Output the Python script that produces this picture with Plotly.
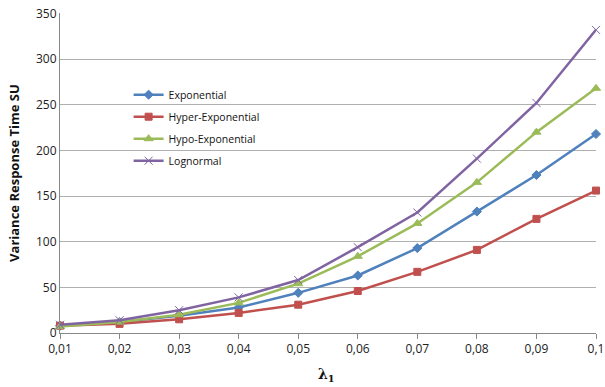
import plotly.graph_objects as go

x_vals = [0.01, 0.02, 0.03, 0.04, 0.05, 0.06, 0.07, 0.08, 0.09, 0.1]
x_labels = ["0,01", "0,02", "0,03", "0,04", "0,05", "0,06", "0,07", "0,08", "0,09", "0,1"]
exponential = [8, 12, 19, 28, 44, 63, 93, 133, 173, 218]
hyper_exponential = [8, 10, 15, 22, 31, 46, 67, 91, 125, 156]
hypo_exponential = [7, 12, 20, 33, 54, 84, 120, 165, 220, 268]
lognormal = [9, 14, 25, 39, 58, 94, 132, 191, 252, 332]
y_ticks = [0, 50, 100, 150, 200, 250, 300, 350]

series = [
    ("Exponential", exponential, "#4F81BD", "diamond", 7),
    ("Hyper-Exponential", hyper_exponential, "#C0504D", "square", 7),
    ("Hypo-Exponential", hypo_exponential, "#9BBB59", "triangle-up", 8),
    ("Lognormal", lognormal, "#8064A2", "x-thin", 8),
]

fig = go.Figure()
for name, vals, color, sym, size in series:
    fig.add_trace(go.Scatter(
        x=x_vals, y=vals, name=name, mode="lines+markers",
        legendgroup=name,
        line=dict(color=color, width=2.5),
        marker=dict(symbol=sym, size=size, color=color,
                    line=dict(color=color, width=1)),
        cliponaxis=False,
    ))

fig.update_layout(
    width=605, height=387,
    margin=dict(l=60, r=9, t=13, b=54),
    paper_bgcolor="white", plot_bgcolor="white",
    font=dict(family="Open Sans, Liberation Sans, sans-serif", size=12, color="#222"),
    showlegend=True,
    legend=dict(x=0.128, y=0.79, xanchor="left", yanchor="top",
                bgcolor="rgba(0,0,0,0)", font=dict(size=10.5, color="#111"),
                itemwidth=30, tracegroupgap=3),
    xaxis=dict(
        range=[0.01, 0.1], tickvals=x_vals, ticktext=x_labels,
        showgrid=False, zeroline=False, showline=True, linecolor="#888",
        linewidth=1, ticks="outside", ticklen=5, tickcolor="#888",
        tickfont=dict(size=12, color="#222"), automargin=False,
        ticklabeloverflow="allow",
    ),
    yaxis=dict(
        range=[0, 350.5], tickvals=y_ticks,
        showgrid=True, gridcolor="#B0B0B0", gridwidth=1,
        zeroline=False, showline=True, linecolor="#888", linewidth=1,
        ticks="", tickfont=dict(size=12, color="#222"), automargin=False,
        ticklabeloverflow="allow",
    ),
)

fig.add_annotation(
    text="<b>Variance Response Time SU</b>", xref="paper", yref="paper",
    x=-0.086, y=0.5, xanchor="center", yanchor="middle", showarrow=False,
    textangle=-90, font=dict(size=13, color="#111"),
)

fig.add_annotation(
    text="<b>λ<sub>1</sub></b>", xref="paper", yref="paper",
    x=0.498, y=-0.131, xanchor="center", yanchor="middle", showarrow=False,
    font=dict(family="DejaVu Serif, Liberation Serif, serif", size=14, color="#111"),
)

# remove the default page margin and scrollbars so the figure fills the window
fig.write_html(
    "out.html",
    config={"displayModeBar": False},
    post_script=(
        "document.body.style.margin='0';"
        "document.body.style.overflow='hidden';"
        "document.documentElement.style.overflow='hidden';"
    ),
)
